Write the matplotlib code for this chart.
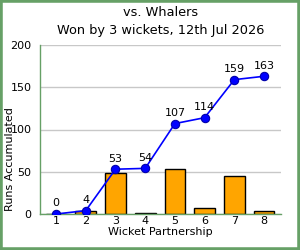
import matplotlib
matplotlib.use("Agg")
import matplotlib.pyplot as plt
from matplotlib.patches import Rectangle

partnerships = [1, 2, 3, 4, 5, 6, 7, 8]
partnership_runs = [0, 4, 49, 1, 53, 7, 45, 4]
cumulative = [0, 4, 53, 54, 107, 114, 159, 163]
title = "vs. Whalers\nWon by 3 wickets, 12th Jul 2026"

fig = plt.figure(figsize=(3, 2.5), dpi=100)
ax = fig.add_axes([40/300, 1-214/250, 241/300, 169/250])

ax.bar(partnerships, partnership_runs, width=0.7, color="#FFA500", edgecolor="black", linewidth=1, zorder=2)
ax.plot(partnerships, cumulative, color="#0000FF", marker="o", markersize=6,
        markeredgecolor="#0000AA", markeredgewidth=0.8, linewidth=1.2, zorder=3)
for x, y in zip(partnerships, cumulative):
    ax.annotate(str(y), (x, y), xytext=(0, 4), textcoords="offset points",
                ha="center", va="bottom", fontsize=8, zorder=4)

ax.set_xlim(0.46, 8.57)
ax.set_ylim(0, 200)
ax.set_yticks([0, 50, 100, 150, 200])
ax.set_xticks(partnerships)
ax.grid(axis="y", color="#c8c8c8", linewidth=1, zorder=0)
ax.set_axisbelow(True)
for s in ["top", "right"]:
    ax.spines[s].set_visible(False)
for s in ["left", "bottom"]:
    ax.spines[s].set_color("#66a066")
    ax.spines[s].set_linewidth(1)
ax.tick_params(axis="y", length=0, labelsize=8, pad=6)
ax.tick_params(axis="x", length=0, labelsize=8, pad=1.5)
ax.set_ylabel("Runs Accumulated", fontsize=8)
ax.yaxis.set_label_coords(-0.104, 0.325)
ax.set_xlabel("Wicket Partnership", fontsize=8, labelpad=0)
ax.xaxis.set_label_coords(0.5, -0.077)
ax.set_title(title, fontsize=9.3, pad=8, linespacing=1.5)

fig.patches.append(Rectangle((0, 0), 1, 1, transform=fig.transFigure, fill=False,
                             edgecolor="#66a066", linewidth=4, zorder=10))
fig.savefig("out.png", dpi=100)
